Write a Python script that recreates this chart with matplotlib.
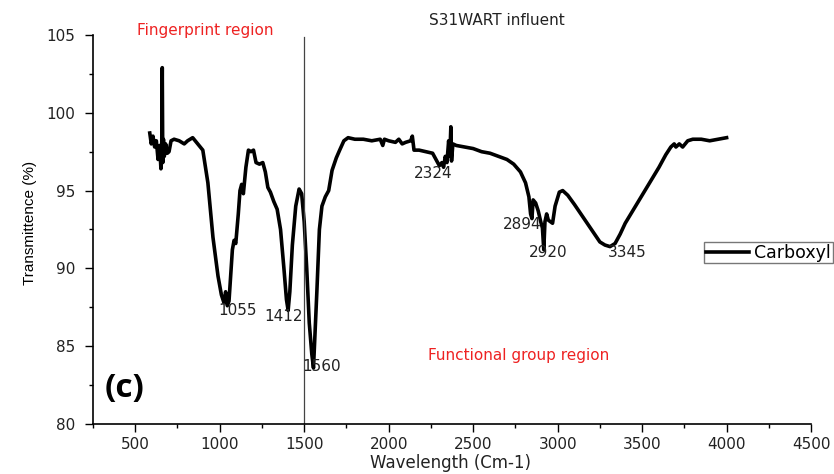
"""FTIR spectrum of S31WART influent (carboxyl), panel (c)."""

import matplotlib
matplotlib.use("Agg")
import matplotlib.pyplot as plt
from matplotlib.ticker import MultipleLocator

# traced spectrum (wavenumber, % transmittance)
wavenumber = [
    586, 595, 605, 615, 625, 635, 645, 652, 657, 660, 663, 667, 672, 680, 690,
    700, 712, 730, 760, 790, 810, 840, 870, 900, 930, 960, 990, 1010, 1025,
    1035, 1045, 1055, 1065, 1075, 1085, 1095, 1110, 1120, 1130, 1140, 1155,
    1170, 1185, 1200, 1215, 1235, 1255, 1270, 1285, 1300, 1320, 1340, 1360,
    1380, 1395, 1405, 1415, 1430, 1450, 1470, 1485, 1500, 1515, 1530, 1545,
    1555, 1565, 1575, 1590, 1605, 1625, 1645, 1665, 1690, 1710, 1735, 1760,
    1800, 1850, 1900, 1950, 1965, 1975, 2000, 2040, 2060, 2080, 2100, 2130,
    2140, 2150, 2180, 2220, 2260, 2280, 2300, 2315, 2325, 2335, 2345, 2355,
    2362, 2368, 2372, 2380, 2400, 2450, 2500, 2550, 2600, 2650, 2700, 2740,
    2780, 2810, 2830, 2840, 2848, 2855, 2870, 2885, 2900, 2910, 2918, 2925,
    2935, 2945, 2958, 2970, 2985, 3010, 3030, 3060, 3100, 3150, 3200, 3250,
    3280, 3310, 3340, 3370, 3400, 3450, 3500, 3550, 3600, 3640, 3670, 3690,
    3700, 3720, 3740, 3770, 3800, 3850, 3900, 3950, 4000,
]
transmittance = [
    98.7, 98.0, 98.5, 97.8, 98.2, 97.0, 97.9, 96.4, 98.0, 102.9, 96.8, 98.3,
    97.2, 98.0, 97.4, 97.5, 98.2, 98.3, 98.2, 98.0, 98.2, 98.4, 98.0, 97.6,
    95.5, 92.0, 89.5, 88.3, 87.8, 88.5, 87.6, 87.9, 89.5, 91.2, 91.8, 91.6,
    93.5, 95.0, 95.4, 94.8, 96.5, 97.6, 97.5, 97.6, 96.8, 96.7, 96.8, 96.2,
    95.2, 94.9, 94.3, 93.8, 92.5, 90.0, 88.0, 87.3, 88.5, 91.5, 94.0, 95.1,
    94.8, 93.0, 90.0, 86.5, 84.5, 83.6, 86.0, 88.5, 92.5, 94.0, 94.6, 95.0,
    96.3, 97.1, 97.6, 98.2, 98.4, 98.3, 98.3, 98.2, 98.3, 97.9, 98.3, 98.2,
    98.1, 98.3, 98.0, 98.1, 98.2, 98.5, 97.6, 97.6, 97.5, 97.4, 97.0, 96.6,
    96.8, 96.5, 97.2, 96.8, 98.2, 97.2, 99.1, 96.9, 98.0, 97.9, 97.8, 97.7,
    97.5, 97.4, 97.2, 97.0, 96.7, 96.2, 95.5, 94.6, 93.5, 93.2, 94.4, 94.2,
    93.7, 93.0, 92.6, 91.2, 93.0, 93.5, 93.1, 93.0, 92.9, 94.0, 94.9, 95.0,
    94.7, 94.1, 93.3, 92.5, 91.7, 91.5, 91.4, 91.6, 92.2, 92.9, 93.8, 94.7,
    95.6, 96.5, 97.3, 97.8, 98.0, 97.8, 98.0, 97.8, 98.2, 98.3, 98.3, 98.2,
    98.3, 98.4,
]

# peak labels and where they sit
peak_labels = ["1055", "1412", "1560", "2324", "2894", "2920", "3345"]
peak_label_x = [1108, 1375, 1605, 2263, 2789, 2943, 3411]
peak_label_y = [87.3, 86.9, 83.7, 96.1, 92.8, 91.0, 91.0]

FONT = ["DejaVu Sans"]
FS = 11

fig = plt.figure(figsize=(8.34, 4.74), dpi=100)
ax = fig.add_axes([0.1115, 0.1055, 0.861, 0.8207])

ax.plot(wavenumber, transmittance, color="black", lw=2.6, label="Carboxyl",
        solid_joinstyle="round")
ax.plot([1500, 1500], [80, 104.9], color="#444444", lw=0.9)

ax.set_xlim(250, 4500)
ax.set_ylim(80, 105)
ax.xaxis.set_major_locator(MultipleLocator(500))
ax.xaxis.set_minor_locator(MultipleLocator(250))
ax.yaxis.set_major_locator(MultipleLocator(5))
ax.yaxis.set_minor_locator(MultipleLocator(2.5))
ax.tick_params(which="major", direction="out", length=6, width=1, labelsize=FS,
               labelcolor="#222222")
ax.tick_params(which="minor", direction="out", length=3, width=1)
ax.tick_params(axis="y", which="major", pad=7)
for lab in ax.get_xticklabels() + ax.get_yticklabels():
    lab.set_family(FONT)

ax.spines["top"].set_visible(False)
ax.spines["right"].set_visible(False)
ax.spines["left"].set_linewidth(1.2)
ax.spines["bottom"].set_linewidth(1.2)

for s, x, y in zip(peak_labels, peak_label_x, peak_label_y):
    ax.text(x, y, s, ha="center", va="center", fontsize=FS, family=FONT,
            color="#222222")

ax.text(913, 105.3, "Fingerprint region", ha="center", va="center",
        fontsize=FS, color="#EE2222", family=FONT, clip_on=False)
ax.text(2772, 84.4, "Functional group region", ha="center", va="center",
        fontsize=FS, color="#EE2222", family=FONT)
ax.text(2641, 105.95, "S31WART influent", ha="center", va="center",
        fontsize=FS, color="#222222", family=FONT, clip_on=False)
ax.text(439, 82.3, "(c)", ha="center", va="center", fontsize=24,
        fontweight="bold", family=["Open Sans", "DejaVu Sans"])

fig.text(0.036, 0.53, "Transmittence (%)", rotation=90, ha="center",
         va="center", fontsize=11, family=["Liberation Sans"])
fig.text(451 / 834, 1 - 463 / 474, "Wavelength (Cm-1)", ha="center",
         va="center", fontsize=12, family=FONT, color="#222222")

leg = ax.legend(loc="upper left", bbox_to_anchor=(704 / 834, 1 - 242 / 474),
                bbox_transform=fig.transFigure, frameon=True, fancybox=False,
                prop={"family": FONT, "size": 12.5}, handlelength=2.5,
                handletextpad=0.3, borderpad=0.1, borderaxespad=0)
leg.get_frame().set_edgecolor("#555555")
leg.get_frame().set_linewidth(1.0)

fig.savefig("out.png", dpi=100, facecolor="white")
